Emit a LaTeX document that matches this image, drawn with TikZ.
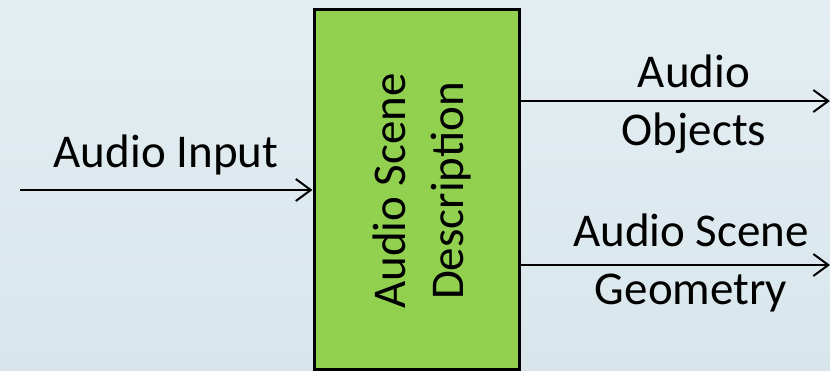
\documentclass[tikz,border=0pt]{standalone}
\usepackage{fontspec}
\setmainfont{Carlito}
\usetikzlibrary{arrows.meta}
\definecolor{bgtop}{HTML}{E4EEF2}
\definecolor{bgbot}{HTML}{D8E6EC}
\definecolor{boxgreen}{HTML}{92D050}
\tikzset{
  lbl/.style={font=\fontsize{47}{58}\selectfont, inner sep=0pt, align=center, text=black},
  conn/.style={line width=2pt, -{Straight Barb[length=15pt,width=22pt,line width=2pt]}},
}
\begin{document}
\begin{tikzpicture}[x=1pt,y=-1pt]
\shade[top color=bgtop, bottom color=bgbot] (0,0) rectangle (830,370);
\useasboundingbox (0,0) rectangle (830,370);
\begin{scope}
\clip (0,0) rectangle (830,370);
\node[draw=black, line width=3pt, fill=boxgreen, minimum width=205pt, minimum height=360pt, inner sep=0pt] (box) at (416.5,189.5) {};
\end{scope}
\node[lbl, rotate=90] (boxtxt) at (422,191) {Audio Scene\\Description};
\coordinate (inp) at (20,190);
\coordinate (o1) at (830,101);
\coordinate (o2) at (830,265);
\draw[conn] (inp) -- (inp -| box.west);
\draw[conn] (o1 -| box.east) -- (o1);
\draw[conn] (o2 -| box.east) -- (o2);
\node[lbl, anchor=base] (lin) at (166,167) {Audio Input};
\node[lbl] (lobj) at (694,104) {Audio\\Objects};
\node[lbl] (lgeo) at (691,263) {Audio Scene\\Geometry};
\end{tikzpicture}
\end{document}
